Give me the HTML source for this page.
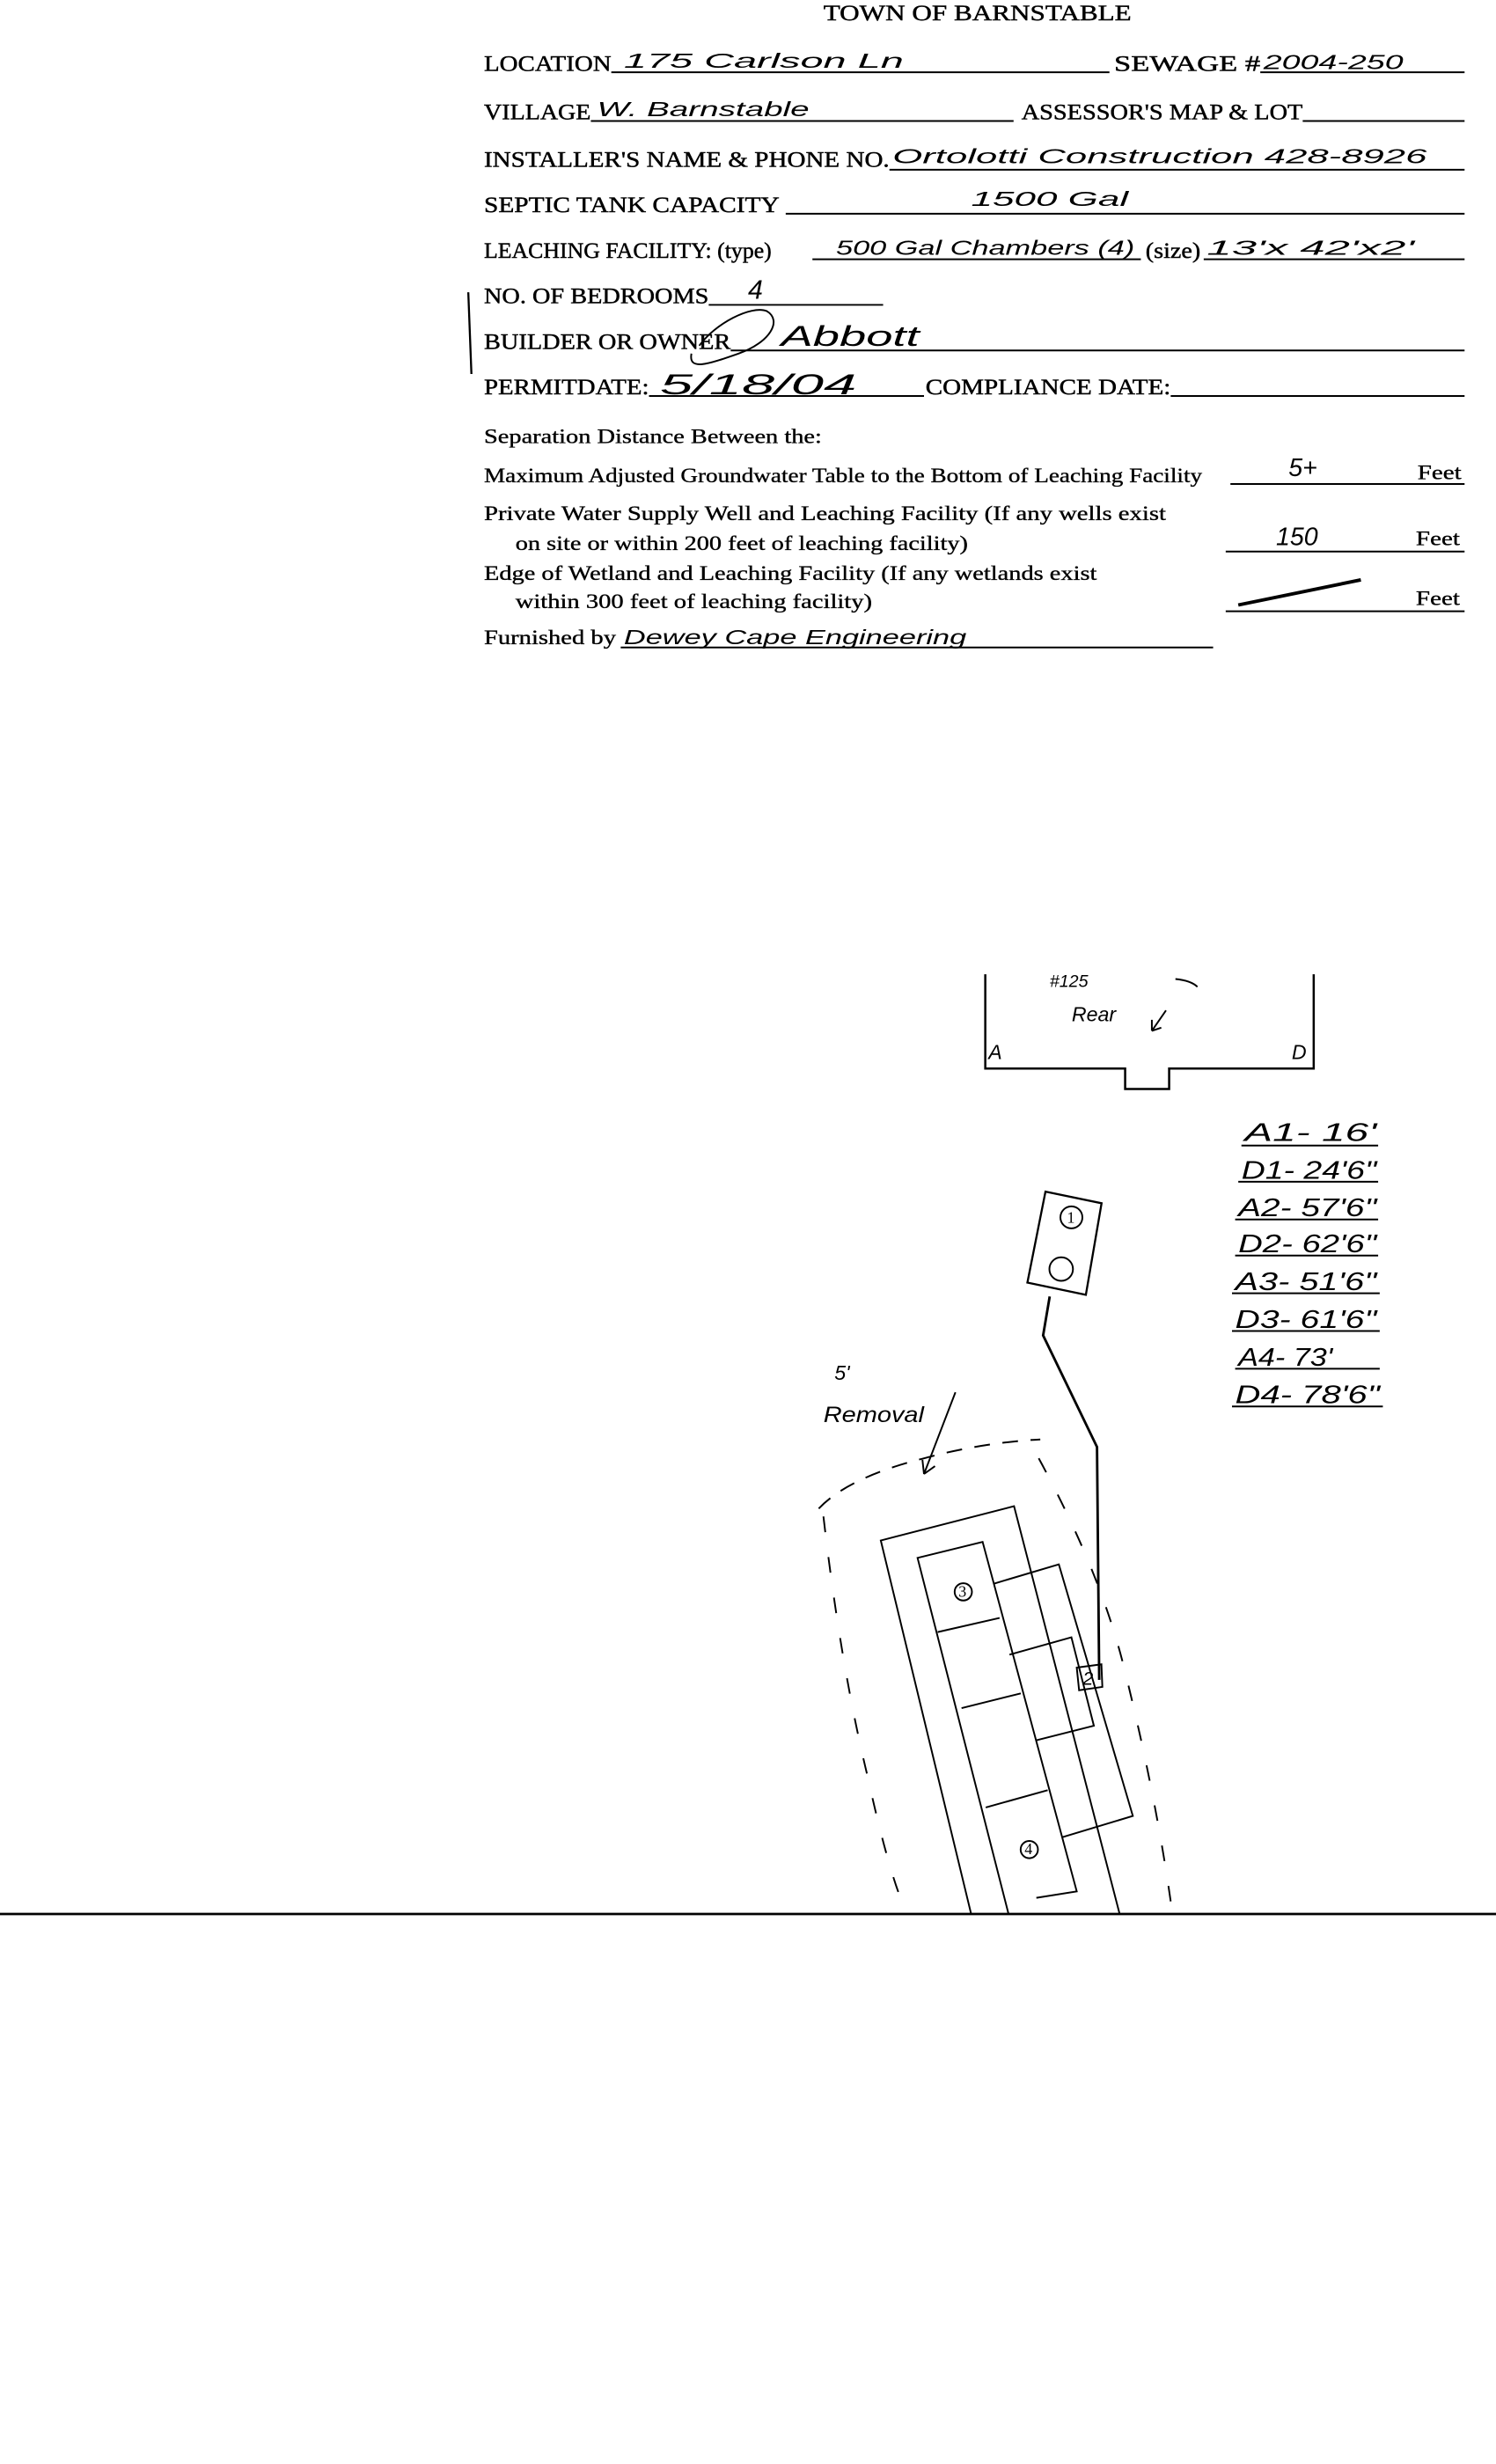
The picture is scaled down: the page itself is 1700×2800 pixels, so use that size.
<!DOCTYPE html>
<html><head><meta charset="utf-8"><style>
html,body{margin:0;padding:0;background:#fff;}
svg{display:block;}
.f{font-family:"Liberation Serif",serif;font-size:14px;fill:#000;stroke:#000;stroke-width:0.25;}
.s{font-family:"Liberation Serif",serif;font-size:13px;fill:#000;stroke:#000;stroke-width:0.2;}
.h{font-family:"Liberation Sans",sans-serif;font-style:italic;font-size:13px;fill:#000;}
</style></head><body>
<svg width="1700" height="2800" viewBox="0 0 952 1568" xmlns="http://www.w3.org/2000/svg">
<rect width="952" height="1568" fill="#fff"/>
<g stroke="#000" stroke-width="1.1" fill="none">
<line x1="389" y1="46" x2="706" y2="46"/><line x1="802" y1="46" x2="932" y2="46"/>
<line x1="376" y1="77" x2="645" y2="77"/><line x1="829" y1="77" x2="932" y2="77"/>
<line x1="566" y1="108" x2="932" y2="108"/>
<line x1="500" y1="136" x2="932" y2="136"/>
<line x1="517" y1="165" x2="726" y2="165"/><line x1="766" y1="165" x2="932" y2="165"/>
<line x1="451" y1="194" x2="562" y2="194"/>
<line x1="465" y1="223" x2="932" y2="223"/>
<line x1="413" y1="252" x2="588" y2="252"/><line x1="745" y1="252" x2="932" y2="252"/>
<line x1="783" y1="308" x2="932" y2="308"/>
<line x1="780" y1="351" x2="932" y2="351"/>
<line x1="780" y1="389" x2="932" y2="389"/>
<line x1="395" y1="412" x2="772" y2="412"/>
<path d="M445 220 C455 206 478 194 488 198 C498 204 490 218 470 225 C450 232 438 236 440 225"/>
<path d="M298 186 L300 238" stroke-width="1.3"/>
<line x1="0" y1="1218" x2="952" y2="1218" stroke-width="1.6"/>
<path d="M627 620 L627 680 L716 680 L716 693 L744 693 L744 680 L836 680 L836 620" stroke-width="1.4"/>
<path d="M748 623 Q758 624 762 628"/>
<path d="M742 643 L733 656 M733 656 L733 649 M733 656 L739 654"/>
<path d="M665.3 758.3 L701 765.7 L691 824 L653.8 816.2Z" stroke-width="1.3"/>
<circle cx="681.8" cy="774.7" r="7"/>
<circle cx="675.3" cy="807.6" r="7.5"/>
<path d="M668 825 L663.8 849.8 L698.1 920.8 L699.5 1069" stroke-width="1.6"/>
<path d="M685.2 1061.2 L700.9 1059.1 L701.5 1073.5 L686.7 1075.6Z"/>
<path d="M618 1218 L560.5 980.3 L645.3 958.5 L712.5 1218"/>
<path d="M641.8 1218 L583.9 991.4 L625.3 981.2 L685.2 1203.6 L659.5 1207.7"/>
<path d="M596.7 1038.6 L636.1 1029.6 M611.9 1087 L649.6 1077.6 M627.3 1150.2 L666.7 1139.2"/>
<path d="M632.4 1007.8 L673.8 995.5 L720.9 1155.6 L676.1 1169.1"/>
<path d="M642.4 1053 L681.8 1041.9 L696.1 1098.2 L659 1107.6"/>
<circle cx="613" cy="1013" r="5.5"/>
<circle cx="655" cy="1177" r="5.5"/>
<path d="M608 886 L588 938 M588 938 L587 929 M588 938 L595 933"/>
<path d="M521 960 Q540 940 588 928 Q625 918 662 916" stroke-dasharray="10 8"/>
<path d="M661 928 Q700 1000 715 1060 Q735 1140 745 1210" stroke-dasharray="10 16"/>
<path d="M524 965 Q535 1060 552 1130 Q563 1180 572 1205" stroke-dasharray="10 16"/>
<line x1="790" y1="729" x2="877" y2="729"/><line x1="788" y1="752" x2="877" y2="752"/>
<line x1="786" y1="776" x2="877" y2="776"/><line x1="786" y1="799" x2="877" y2="799"/>
<line x1="784" y1="823" x2="878" y2="823"/><line x1="784" y1="847" x2="878" y2="847"/>
<line x1="786" y1="871" x2="878" y2="871"/><line x1="784" y1="895" x2="880" y2="895"/>
<path d="M788 385 L866 369" stroke-width="2.2"/>
</g>
<text class="f" x="524" y="13" textLength="196" lengthAdjust="spacingAndGlyphs">TOWN OF BARNSTABLE</text>
<text class="f" x="308" y="45" textLength="81" lengthAdjust="spacingAndGlyphs">LOCATION</text>
<text class="f" x="709" y="45" textLength="93" lengthAdjust="spacingAndGlyphs">SEWAGE #</text>
<text class="f" x="308" y="76" textLength="68" lengthAdjust="spacingAndGlyphs">VILLAGE</text>
<text class="f" x="650" y="76" textLength="179" lengthAdjust="spacingAndGlyphs">ASSESSOR'S MAP &amp; LOT</text>
<text class="f" x="308" y="106" textLength="258" lengthAdjust="spacingAndGlyphs">INSTALLER'S NAME &amp; PHONE NO.</text>
<text class="f" x="308" y="135" textLength="188" lengthAdjust="spacingAndGlyphs">SEPTIC TANK CAPACITY</text>
<text class="f" x="308" y="164" textLength="183" lengthAdjust="spacingAndGlyphs">LEACHING FACILITY: (type)</text>
<text class="f" x="729" y="164" textLength="35" lengthAdjust="spacingAndGlyphs">(size)</text>
<text class="f" x="308" y="193" textLength="143" lengthAdjust="spacingAndGlyphs">NO. OF BEDROOMS</text>
<text class="f" x="308" y="222" textLength="157" lengthAdjust="spacingAndGlyphs">BUILDER OR OWNER</text>
<text class="f" x="308" y="251" textLength="105" lengthAdjust="spacingAndGlyphs">PERMITDATE:</text>
<text class="f" x="589" y="251" textLength="156" lengthAdjust="spacingAndGlyphs">COMPLIANCE  DATE:</text>
<text class="s" x="308" y="282" textLength="215" lengthAdjust="spacingAndGlyphs">Separation Distance Between the:</text>
<text class="s" x="308" y="307" textLength="457" lengthAdjust="spacingAndGlyphs">Maximum Adjusted Groundwater Table to the Bottom of Leaching Facility</text>
<text class="s" x="902" y="305" textLength="28" lengthAdjust="spacingAndGlyphs">Feet</text>
<text class="s" x="308" y="331" textLength="434" lengthAdjust="spacingAndGlyphs">Private Water Supply Well and Leaching Facility  (If any wells exist</text>
<text class="s" x="328" y="350" textLength="288" lengthAdjust="spacingAndGlyphs">on site or within 200 feet of leaching facility)</text>
<text class="s" x="901" y="347" textLength="28" lengthAdjust="spacingAndGlyphs">Feet</text>
<text class="s" x="308" y="369" textLength="390" lengthAdjust="spacingAndGlyphs">Edge of Wetland and Leaching Facility (If any wetlands exist</text>
<text class="s" x="328" y="387" textLength="227" lengthAdjust="spacingAndGlyphs">within 300 feet of leaching facility)</text>
<text class="s" x="901" y="385" textLength="28" lengthAdjust="spacingAndGlyphs">Feet</text>
<text class="s" x="308" y="410" textLength="84" lengthAdjust="spacingAndGlyphs">Furnished by</text>
<text class="h" x="397" y="43" textLength="178" lengthAdjust="spacingAndGlyphs">175  Carlson  Ln</text>
<text class="h" x="804" y="44" textLength="89" lengthAdjust="spacingAndGlyphs">2004-250</text>
<text class="h" x="380" y="74" textLength="135" lengthAdjust="spacingAndGlyphs">W. Barnstable</text>
<text class="h" x="568" y="104" textLength="340" lengthAdjust="spacingAndGlyphs">Ortolotti  Construction  428-8926</text>
<text class="h" x="618" y="131" textLength="100" lengthAdjust="spacingAndGlyphs">1500 Gal</text>
<text class="h" x="532" y="162" textLength="190" lengthAdjust="spacingAndGlyphs">500 Gal Chambers (4)</text>
<text class="h" x="768" y="162" textLength="132" lengthAdjust="spacingAndGlyphs">13'x 42'x2'</text>
<text class="h" x="476" y="190" style="font-size:17px">4</text>
<text class="h" x="497" y="220" textLength="88" lengthAdjust="spacingAndGlyphs" style="font-size:18px">Abbott</text>
<text class="h" x="420" y="251" textLength="125" lengthAdjust="spacingAndGlyphs" style="font-size:18px">5/18/04</text>
<text class="h" x="820" y="303" style="font-size:16px">5+</text>
<text class="h" x="812" y="347" style="font-size:16px">150</text>
<text class="h" x="397" y="410" textLength="218" lengthAdjust="spacingAndGlyphs">Dewey  Cape  Engineering</text>
<text class="h" x="668" y="628" style="font-size:11px">#125</text>
<text class="h" x="682" y="650" style="font-size:13px">Rear</text>
<text class="h" x="629" y="674" style="font-size:13px">A</text>
<text class="h" x="822" y="674" style="font-size:13px">D</text>
<text x="679" y="778" style="font-family:'Liberation Serif',serif;font-size:10px">1</text>
<text x="610" y="1016" style="font-family:'Liberation Serif',serif;font-size:10px">3</text>
<text x="652" y="1180" style="font-family:'Liberation Serif',serif;font-size:10px">4</text>
<text class="h" x="689" y="1072" style="font-size:12px">2</text>
<text class="h" x="531" y="878" style="font-size:13px">5'</text>
<text class="h" x="524" y="905" textLength="64" lengthAdjust="spacingAndGlyphs" style="font-size:14px">Removal</text>
<g class="h" style="font-size:16px">
<text x="792" y="726" textLength="84" lengthAdjust="spacingAndGlyphs">A1- 16'</text>
<text x="790" y="750" textLength="86" lengthAdjust="spacingAndGlyphs">D1- 24'6"</text>
<text x="788" y="774" textLength="88" lengthAdjust="spacingAndGlyphs">A2- 57'6"</text>
<text x="788" y="797" textLength="88" lengthAdjust="spacingAndGlyphs">D2- 62'6"</text>
<text x="786" y="821" textLength="90" lengthAdjust="spacingAndGlyphs">A3- 51'6"</text>
<text x="786" y="845" textLength="90" lengthAdjust="spacingAndGlyphs">D3- 61'6"</text>
<text x="788" y="869" textLength="60" lengthAdjust="spacingAndGlyphs">A4- 73'</text>
<text x="786" y="893" textLength="92" lengthAdjust="spacingAndGlyphs">D4- 78'6"</text>
</g>
</svg>
</body></html>
